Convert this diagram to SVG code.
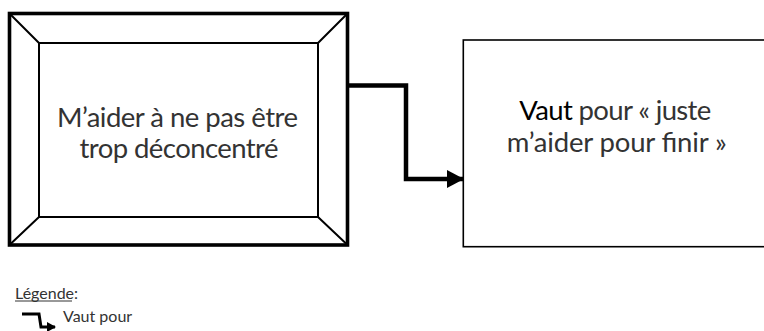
<svg xmlns="http://www.w3.org/2000/svg" width="764" height="331" viewBox="0 0 764 331">
<style>
.lbl{font-family:Lato,"Open Sans","Liberation Sans",sans-serif;font-size:27.5px;fill:#333}
.blk{fill:#000}
.leg{font-family:Lato,"Open Sans","Liberation Sans",sans-serif;font-size:16px;fill:#333}
.conn{fill:none;stroke:#000;stroke-width:4.5}
</style>
<defs>
<marker id="ah" markerUnits="userSpaceOnUse" markerWidth="17" markerHeight="18" refX="16" refY="9" orient="auto">
<path d="M0,0 L17,9 L0,18 Z" fill="#000"/>
</marker>
<marker id="ahs" markerUnits="userSpaceOnUse" markerWidth="9" markerHeight="10" refX="8" refY="5" orient="auto">
<path d="M0,0 L9,5 L0,10 Z" fill="#000"/>
</marker>
</defs>
<rect width="764" height="331" fill="#fff"/>
<g id="node-left">
<rect x="9.5" y="13.5" width="338" height="231.5" fill="#fff" stroke="#000" stroke-width="3.6"/>
<rect x="39" y="43" width="279" height="174" fill="#fff" stroke="#000" stroke-width="2"/>
<path d="M11,15 L39,43 M346,15 L318,43 M11,243.5 L39,217 M346,243.5 L318,217" stroke="#000" stroke-width="2" fill="none"/>
<text class="lbl" x="57" y="126.7" textLength="241">M’aider à ne pas être</text>
<text class="lbl" x="79.5" y="158.3" textLength="199">trop déconcentré</text>
</g>
<g id="node-right">
<rect x="463.3" y="40" width="320" height="206.7" fill="#fff" stroke="#000" stroke-width="1.6"/>
<text class="lbl" x="519.3" y="120" textLength="192"><tspan class="blk">Vaut</tspan> pour « juste</text>
<text class="lbl" x="506.7" y="151.7" textLength="220">m’aider pour finir »</text>
</g>
<g id="connectors">
<polyline class="conn" points="349,85.5 406,85.5 406,179 463,179" marker-end="url(#ah)"/>
</g>
<g id="legend">
<text class="leg" x="15" y="299">Légende:</text>
<line x1="15" y1="301" x2="72" y2="301" stroke="#333" stroke-width="1"/>
<polyline points="22,314 39,314 41,327 55,327" fill="none" stroke="#000" stroke-width="3" marker-end="url(#ahs)"/>
<text class="leg" x="63" y="322">Vaut pour</text>
</g>
</svg>
